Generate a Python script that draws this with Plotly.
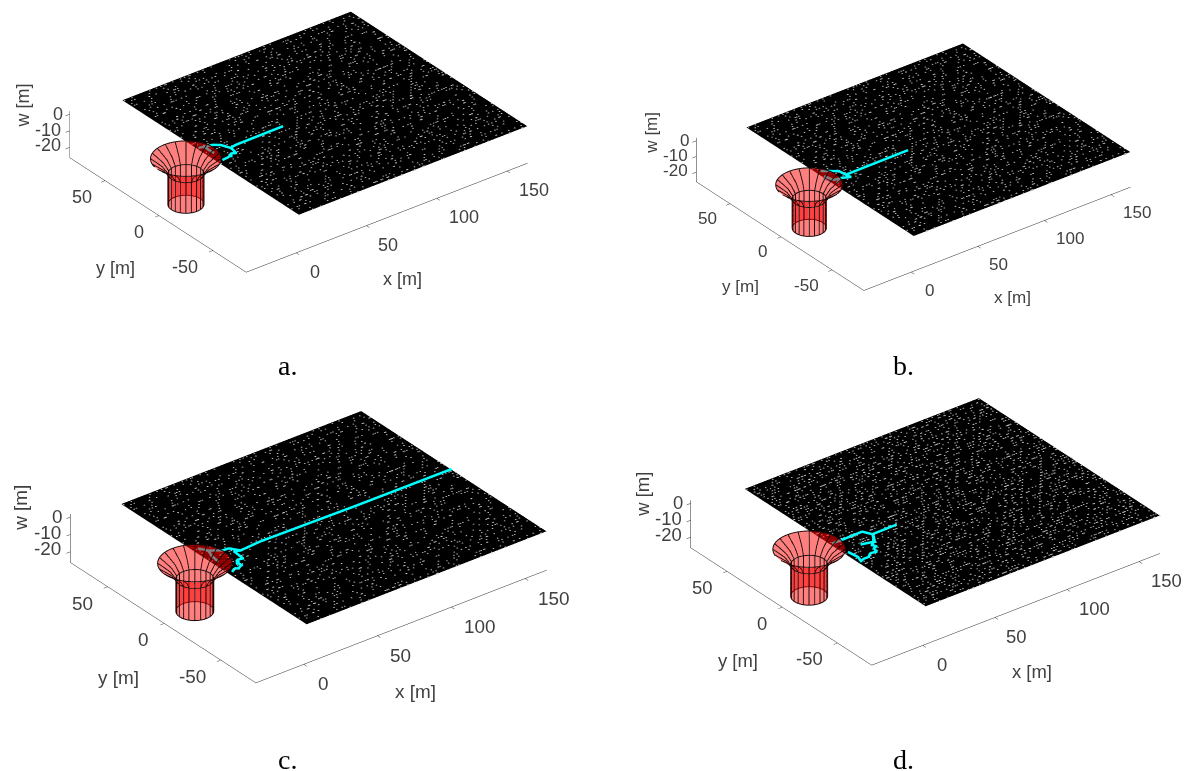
import numpy as np
import plotly.graph_objects as go

# --- values (metres) ---
x_min = {"a": -35.5, "b": -35.5, "c": -32.4, "d": -35.5}
x_max = 164.5
y_range = [-81, 83]
z_range = [-26.2, 1.8]
x_ticks = [0, 50, 100, 150]
y_ticks = [-50, 0, 50]
z_ticks = [-20, -10, 0]
mesh_x = [2, 164.5]
mesh_y = [-81, 83]
mesh_z = -3.8

cup_z = [1.5, -1, -3.5, -7.6, -26.1]
cup_r = [20, 16.5, 13.2, 10.2, 10.2]

centers = {"a": (-15.8, 0.7), "b": (-15.9, -2.0), "c": (-11.5, 0.3), "d": (-16.4, 0.6)}

path_a = [
    [(55.2, 2.8), (35, 2.6), (20.9, 2.4), (16.6, 1.5), (14.2, 7.7), (10.7, 10.5), (7.8, 11.3), (2.4, 12.6)],
    [(16.6, 1.5), (16.2, -1), (15.4, -4.8), (13, -3.5), (11.1, -5.7), (4.9, -6.5)],
    [(7.8, 11.3), (5.5, 10.2), (5.6, 2.9)],
]
path_b = [
    [(60.9, 1.1), (35, 0.9), (13.5, 0.7), (12.9, 6.8), (9.2, 9.7), (4.5, 13.4)],
    [(13.5, 0.7), (14.3, -3.2), (8.8, -0.5), (3.9, -4.1)],
    [(8.8, -0.5), (4, 0.2), (2.3, 7.6)],
]
path_c = [
    [(164.5, 2.5), (100, 2.8), (35.9, 4), (21.6, 2.8), (17.8, 8.5), (13.9, 8.8), (7.6, 13.7), (4.7, 18.7)],
    [(21.6, 2.8), (18, 4.3), (17.2, -4.7), (14, -4), (11.8, -7.3), (12.5, -10), (9, -11.9), (7.5, -10.5), (4.5, -12.5)],
    [(7.6, 13.7), (5.5, 8), (4.6, 1)],
]
path_d = [
    [(43.6, -0.8), (26.3, -1), (23.6, 4.7), (15, 4.5), (7.1, 4.3), (2.7, 4.5)],
    [(26.3, -1), (24.5, -4), (21.9, -8.1), (19, -10.6), (20, -13), (17.5, -14), (16, -17.5), (13, -17), (9.7, -19.6),
     (6.5, -19.5), (3.2, -20.5), (4.7, -15.6), (3.7, -7.9)],
    [(21.9, -8.1), (14.4, -5.9)],
]
paths = {"a": path_a, "b": path_b, "c": path_c, "d": path_d}

# target centre of the 3D box in pixels and relative scale per panel
box_center = {"a": (298.0, 138.0), "b": (912.9, 163.3), "c": (308.0, 542.3), "d": (924.8, 527.1)}
panel_scale = {"a": 1.0, "b": 0.948, "c": 1.05, "d": 1.025}
hole_count = {"a": 1700, "b": 1700, "c": 1700, "d": 2800}
captions = {"a": (279, 357), "b": (895, 357), "c": (279, 751), "d": (895, 751)}

W, H = 1192, 771
BOX = np.array([355.6, 289.0, 53.5])
PX_PER_UNIT = 193.1
OFFSET = (7.5, 9.0)
K = 3.0
az, el = np.radians(-37.7), np.radians(30.1)
R = np.array([np.cos(az), np.sin(az), 0])
U = np.array([-np.sin(el) * np.sin(az), np.sin(el) * np.cos(az), np.cos(el)])
D = np.array([np.cos(el) * np.sin(az), -np.cos(el) * np.cos(az), np.sin(el)])
TXT = "#404040"
FLAT = dict(ambient=1, diffuse=0, specular=0, fresnel=0)

fig = go.Figure()
names = ["a", "b", "c", "d"]
for i, n in enumerate(names):
    sid = "scene" if i == 0 else f"scene{i+1}"
    kw = dict(scene=sid, showlegend=False, hoverinfo="skip")
    sc = panel_scale[n]
    x_range = [x_min[n], x_max]
    # sheet
    fig.add_trace(go.Surface(x=mesh_x, y=mesh_y, z=[[mesh_z, mesh_z], [mesh_z, mesh_z]],
                             colorscale=[[0, "black"], [1, "black"]], showscale=False, lighting=FLAT, **kw))
    # gaps in the fine wire mesh: a texture along the rows of the grid
    idx = np.arange(1, hole_count[n] + 1)
    hx = mesh_x[0] + ((idx * 0.7548777 + 0.08 * ((idx * idx * 0.377) % 1)) % 1) * (mesh_x[1] - mesh_x[0])
    hy = mesh_y[0] + np.round(((idx * 0.5698403 + 0.08 * ((idx * idx * 0.613) % 1)) % 1) * (mesh_y[1] - mesh_y[0]) / 2.5) * 2.5
    fig.add_trace(go.Scatter3d(x=hx, y=hy, z=[mesh_z + 0.05] * len(hx), mode="markers",
                               marker=dict(size=1, color="#c8c8c8"), **kw))
    # path
    for seg in paths[n]:
        sx, sy = zip(*seg)
        fig.add_trace(go.Scatter3d(x=sx, y=sy, z=[mesh_z + 0.1] * len(sx), mode="lines",
                                   line=dict(color="#00ffff", width=9), **kw))
    # cup
    cx, cy = centers[n]
    th = np.linspace(0, 2 * np.pi, 61)
    zz = np.array(cup_z); rr = np.array(cup_r)
    X = cx + np.outer(rr, np.cos(th)); Y = cy + np.outer(rr, np.sin(th)); Z = np.outer(zz, np.ones_like(th))
    fig.add_trace(go.Surface(x=X, y=Y, z=Z, colorscale=[[0, "#ff0000"], [1, "#ff0000"]], opacity=0.5,
                             showscale=False, lighting=FLAT, **kw))
    # the part of the cup mouth seen over the sheet
    dcx, dcy = cx + 6.0, cy + 7.8
    xs = np.linspace(mesh_x[0], dcx + cup_r[0], 30)
    half = np.sqrt(np.maximum(cup_r[0] ** 2 - (xs - dcx) ** 2, 0))
    vs = np.linspace(-1, 1, 21)
    DX = np.outer(xs, np.ones_like(vs)); DY = dcy + np.outer(half, vs)
    fig.add_trace(go.Surface(x=DX, y=DY, z=np.full(DX.shape, mesh_z + 0.2), colorscale=[[0, "#ff0000"], [1, "#ff0000"]],
                             opacity=0.5, showscale=False, lighting=FLAT, **kw))
    lx, ly, lz = [], [], []
    for t in (az + np.pi / 2 + np.linspace(0, 2 * np.pi, 21)[:-1]):
        lx += list(cx + rr * np.cos(t)) + [None]
        ly += list(cy + rr * np.sin(t)) + [None]
        lz += list(zz) + [None]
    for k in [0, 3, 4]:
        lx += list(X[k]) + [None]; ly += list(Y[k]) + [None]; lz += list(Z[k]) + [None]
    fig.add_trace(go.Scatter3d(x=lx, y=ly, z=lz, mode="lines", line=dict(color="#1a0808", width=2), **kw))

    col, row = i % 2, i // 2
    dom_x = [col * 0.5, col * 0.5 + 0.5]
    dom_y = [1 - (row + 1) * 0.5, 1 - row * 0.5]
    dx = box_center[n][0] - OFFSET[0] - (col + 0.5) * W / 2
    dy = box_center[n][1] - OFFSET[1] - (row + 0.5) * H / 2
    c = -dx / PX_PER_UNIT * R + dy / PX_PER_UNIT * U
    e = c + K * D
    asp = BOX * sc / PX_PER_UNIT
    asp[0] *= (x_max - x_min[n]) / 200.0
    ax = dict(showbackground=False, showgrid=False, zeroline=False, showline=True, linecolor="#262626", linewidth=1,
              ticks="outside", ticklen=5, tickcolor="#262626", tickwidth=1, showspikes=False, showticklabels=False,
              title=dict(text=""))
    f = dict(family="Liberation Sans", size=18 * sc, color=TXT)
    anns = []
    def lab(text, x, y, z, sx, sy, angle=0):
        anns.append(dict(x=x, y=y, z=z, text=text, showarrow=False, xanchor="center", yanchor="middle",
                         xshift=sx * sc, yshift=-sy * sc, font=f, textangle=angle))
    for v, sx in zip(x_ticks, [19, 21.5, 27, 27]):
        lab(str(v), v, y_range[0], z_range[0], sx, 19.3)
    for v, sx in zip(y_ticks, [-27.4, -20, -23.6]):
        lab(str(v), x_range[0], v, z_range[0], sx, 16.3)
    for v, sx, sy in zip(z_ticks, [-22, -22, -12], [-2, -1, 0]):
        lab(str(v), x_range[0], y_range[1], v, sx, sy)
    lab("x [m]", 50, y_range[0], z_range[0], 36.3, 54)
    lab("y [m]", x_range[0], 0, z_range[0], -43.3, 52.3)
    lab("w [m]", x_range[0], y_range[1], -10, -47, -24.7, -90)
    scene = dict(
        domain=dict(x=dom_x, y=dom_y),
        aspectmode="manual", aspectratio=dict(x=asp[0], y=asp[1], z=asp[2]),
        camera=dict(projection=dict(type="orthographic"), up=dict(x=0, y=0, z=1),
                    center=dict(x=c[0], y=c[1], z=c[2]), eye=dict(x=e[0], y=e[1], z=e[2])),
        xaxis=dict(ax, range=x_range, tickvals=x_ticks),
        yaxis=dict(ax, range=y_range, tickvals=y_ticks),
        zaxis=dict(ax, range=z_range, tickvals=z_ticks),
        annotations=anns,
    )
    fig.update_layout({sid: scene})
    px, py = captions[n]
    fig.add_annotation(x=px / W, y=1 - py / H, xref="paper", yref="paper", text=n + ".", showarrow=False,
                       xanchor="center", yanchor="middle",
                       font=dict(family="Liberation Serif", size=28, color="black"))

fig.update_layout(width=W, height=H, margin=dict(l=0, r=0, t=0, b=0), paper_bgcolor="white", showlegend=False)
fig.write_html("out.html")
